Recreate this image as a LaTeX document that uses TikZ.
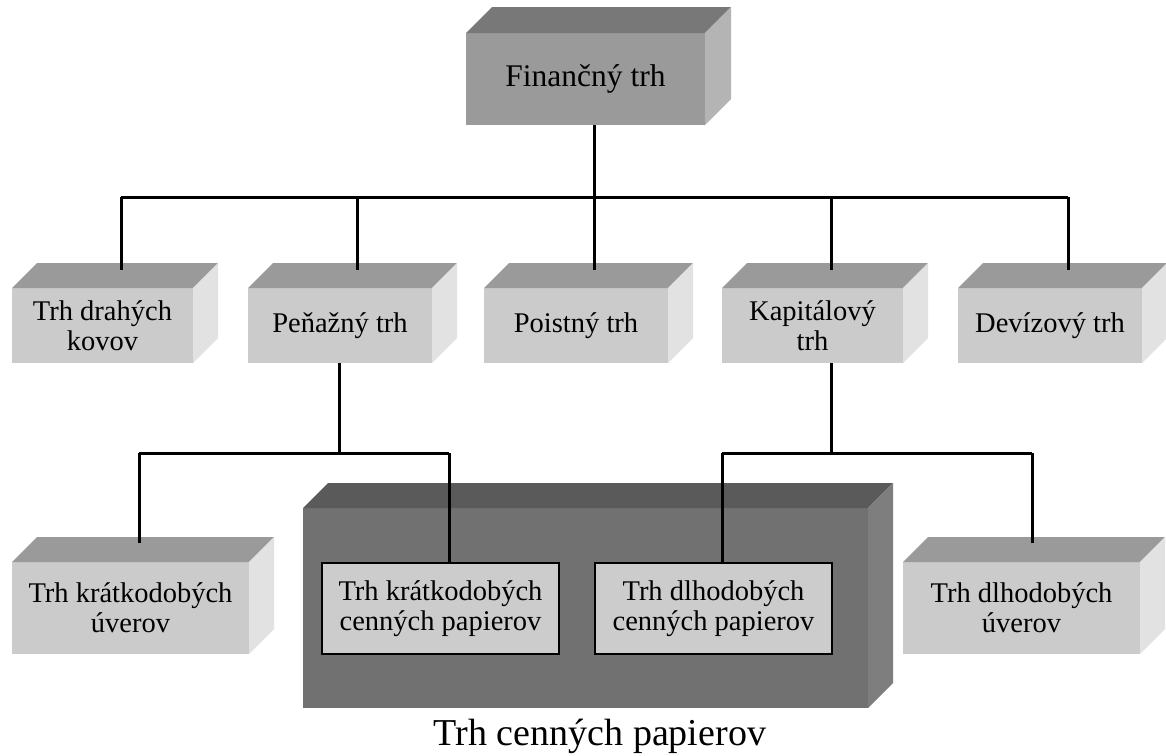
\documentclass[tikz,border=0pt]{standalone}
\usepackage{fontspec}
\setmainfont{Liberation Serif}
\definecolor{lfront}{HTML}{CBCBCB}
\definecolor{ltop}{HTML}{9A9A9A}
\definecolor{lside}{HTML}{E2E2E2}
\definecolor{mfront}{HTML}{9A9A9A}
\definecolor{mtop}{HTML}{787878}
\definecolor{mside}{HTML}{B4B4B4}
\definecolor{dfront}{HTML}{717171}
\definecolor{dtop}{HTML}{5A5A5A}
\definecolor{dside}{HTML}{7E7E7E}
\definecolor{ifill}{HTML}{CCCCCC}
% #1 name, #2 cx, #3 cy, #4 w, #5 h, #6 depth, #7 front, #8 top, #9 side ; text via \cubetext
\newcommand{\mycube}[9]{%
  \node[face, fill=#7, minimum width=#4pt, minimum height=#5pt] (#1) at (#2,#3) {\cubetext};
  \fill[#8] (#1.north west) -- ++(#6,-#6) -- ++(#4,0) -- (#1.north east) -- cycle;
  \fill[#9] (#1.north east) -- ++(#6,-#6) -- ++(0,#5) -- (#1.south east) -- cycle;
}
\newcommand{\cubetext}{}
\begin{document}
\begin{tikzpicture}[x=1pt,y=-1pt,
  face/.style={inner sep=0pt, outer sep=0pt, align=center, text=black,
    font=\fontsize{28.5}{30}\selectfont},
  link/.style={draw=black, line width=3pt},
  inner/.style={draw=black, line width=1.6pt, fill=ifill, inner sep=0pt,
    minimum width=237pt, minimum height=91pt, align=center,
    font=\fontsize{28.5}{30}\selectfont}]
\useasboundingbox (0,0) rectangle (1166,755);
\fill[white] (0,0) rectangle (1166,755);

% top box
\renewcommand{\cubetext}{\fontsize{31.5}{33}\selectfont Finančný trh}
\mycube{fin}{585.5}{79}{239}{92}{26}{mfront}{mtop}{mside}

% level 2
\renewcommand{\cubetext}{Trh drahých\\kovov}
\mycube{kov}{102.5}{325.5}{181}{75}{25}{lfront}{ltop}{lside}
\renewcommand{\cubetext}{Peňažný trh}
\mycube{pen}{340}{325.5}{184}{75}{25}{lfront}{ltop}{lside}
\renewcommand{\cubetext}{Poistný trh}
\mycube{poi}{576}{325.5}{184}{75}{25}{lfront}{ltop}{lside}
\renewcommand{\cubetext}{Kapitálový\\trh}
\mycube{kap}{812.5}{325.5}{181}{75}{25}{lfront}{ltop}{lside}
\renewcommand{\cubetext}{Devízový trh}
\mycube{dev}{1050}{325.5}{184}{75}{25}{lfront}{ltop}{lside}

% level 3
\renewcommand{\cubetext}{Trh krátkodobých\\úverov}
\mycube{kuv}{130.5}{608}{237}{92}{25}{lfront}{ltop}{lside}
\renewcommand{\cubetext}{Trh dlhodobých\\úverov}
\mycube{duv}{1021.5}{608}{237}{92}{25}{lfront}{ltop}{lside}
\renewcommand{\cubetext}{}
\mycube{tcp}{585.5}{608}{565}{200}{25}{dfront}{dtop}{dside}

\node[inner] (kcp) at (440.5,608.5) {Trh krátkodobých\\cenných papierov};
\node[inner] (dcp) at (713.5,608.5) {Trh dlhodobých\\cenných papierov};

\node[anchor=base, font=\fontsize{38}{40}\selectfont] (lbl) at (600,745) {Trh cenných papierov};

% connector coordinates
\coordinate (b0) at (594,197);
\coordinate (t1) at (121,270);
\coordinate (t2) at (357,270);
\coordinate (t3) at (594,270);
\coordinate (t4) at (831,270);
\coordinate (t5) at (1068,270);
\coordinate (jl) at (339,453);
\coordinate (jr) at (831,453);
\coordinate (e1) at (139,543);
\coordinate (e2) at (449,563);
\coordinate (e3) at (722,563);
\coordinate (e4) at (1032,543);

\draw[link] (fin.south -| b0) -- (b0);
\draw[link] (t1 |- b0) -- (t5 |- b0);
\draw[link] (t1 |- b0) -- (t1);
\draw[link] (t2 |- b0) -- (t2);
\draw[link] (t3 |- b0) -- (t3);
\draw[link] (t4 |- b0) -- (t4);
\draw[link] (t5 |- b0) -- (t5);

\draw[link] (pen.south -| jl) -- (jl);
\draw[link] (e1 |- jl) -- (e2 |- jl);
\draw[link] (e1 |- jl) -- (e1);
\draw[link] (e2 |- jl) -- (kcp.north -| e2);

\draw[link] (kap.south -| jr) -- (jr);
\draw[link] (e3 |- jr) -- (e4 |- jr);
\draw[link] (e3 |- jr) -- (dcp.north -| e3);
\draw[link] (e4 |- jr) -- (e4);
\end{tikzpicture}
\end{document}
